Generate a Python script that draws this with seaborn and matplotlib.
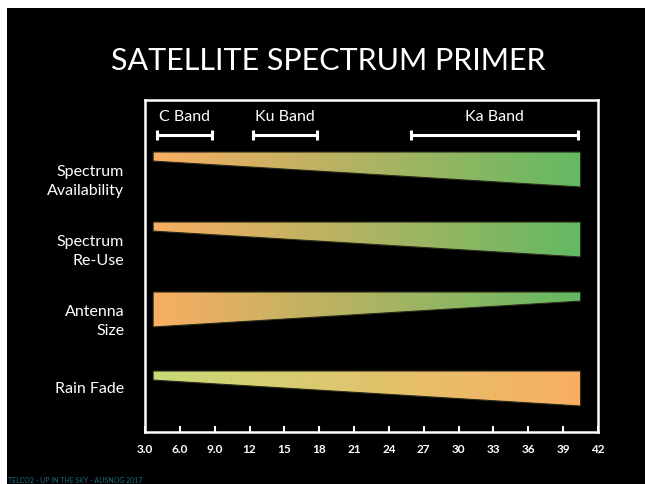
import numpy as np
import pandas as pd
import matplotlib
matplotlib.use("Agg")
import matplotlib.pyplot as plt
from matplotlib.colors import LinearSegmentedColormap
from matplotlib.patches import Polygon, Rectangle
import seaborn as sns

# ---- data -------------------------------------------------------------
metrics = ["Spectrum\nAvailability", "Spectrum\nRe-Use", "Antenna\nSize", "Rain Fade"]
freq_start = 3.7          # GHz, left end of every wedge
freq_end = 40.5           # GHz, right end of every wedge
level_low = [0.26, 0.26, 1.0, 0.26]    # relative magnitude at low frequency
level_high = [1.0, 1.0, 0.26, 1.0]     # relative magnitude at high frequency
color_low = ["#F9AE62", "#F9AE62", "#F9AE62", "#C9DA78"]
color_high = ["#63B963", "#63B963", "#63B963", "#F9AE62"]

bands = ["C Band", "Ku Band", "Ka Band"]
band_lo = [4.0, 12.3, 25.9]
band_hi = [8.8, 17.8, 40.3]

x_ticks = [3, 6, 9, 12, 15, 18, 21, 24, 27, 30, 33, 36, 39, 42]
x_tick_labels = ["3.0", "6.0", "9.0", "12", "15", "18", "21", "24",
                 "27", "30", "33", "36", "39", "42"]

# ---- layout (vertical units of the axes, top = 0) ---------------------
row_top = [52, 122, 192, 271]
row_label_y = [77, 147, 217, 287]
max_thickness = 35
bracket_y = 35
band_label_y = 16

sns.set_theme(style="dark")
plt.rcParams["font.family"] = ["Lato", "DejaVu Sans"]

fig = plt.figure(figsize=(6.45, 4.85), dpi=100, facecolor="white")
fig.patches.append(Rectangle((7 / 645, 0), 1, 1 - 9 / 485, transform=fig.transFigure,
                             facecolor="black", edgecolor="none", zorder=-10))

ax = fig.add_axes([145 / 645, 1 - 433 / 485, 453 / 645, 332 / 485])
ax.set_zorder(5)
ax.set_facecolor("black")
ax.set_xlim(3, 42)
ax.set_ylim(332, 0)

# gradient wedges
for i in range(len(metrics)):
    top = row_top[i]
    b0 = top + max_thickness * level_low[i]
    b1 = top + max_thickness * level_high[i]
    verts = [(freq_start, top), (freq_end, top), (freq_end, b1), (freq_start, b0)]
    poly = Polygon(verts, closed=True, facecolor="none", edgecolor="#2a2a1a",
                   linewidth=0.8, zorder=3)
    ax.add_patch(poly)
    cmap = LinearSegmentedColormap.from_list(f"row{i}", [color_low[i], color_high[i]])
    grad = np.linspace(0, 1, 256).reshape(1, -1)
    im = ax.imshow(grad, cmap=cmap, aspect="auto", interpolation="bilinear",
                   extent=[freq_start, freq_end, max(b0, b1), top], zorder=2)
    im.set_clip_path(poly)

# band brackets
seg = pd.DataFrame({
    "freq": [v for lo, hi in zip(band_lo, band_hi) for v in (lo, hi)],
    "y": [bracket_y] * (2 * len(bands)),
    "band": [b for b in bands for _ in range(2)],
})
sns.lineplot(data=seg, x="freq", y="y", units="band", estimator=None,
             color="white", linewidth=2.2, ax=ax, legend=False, sort=False)
for name, lo, hi in zip(bands, band_lo, band_hi):
    ax.vlines([lo, hi], bracket_y - 5, bracket_y + 5, color="white", linewidth=2.2)
    ax.text((lo + hi) / 2, band_label_y, name, color="white", fontsize=11.5,
            ha="center", va="center")

# axes styling
for s in ax.spines.values():
    s.set_visible(True)
    s.set_color("white")
    s.set_linewidth(1.8)
ax.set_xticks(x_ticks)
ax.set_xticklabels(x_tick_labels)
ax.tick_params(axis="x", direction="in", length=4, width=1.5, color="white",
               labelcolor="white", labelsize=8.5, pad=8, bottom=True)
for t in ax.get_xticklabels():
    t.set_fontweight("bold")
ax.set_yticks(row_label_y)
ax.set_yticklabels(metrics)
ax.tick_params(axis="y", length=0, pad=15, labelcolor="white", labelsize=11.5)
for t in ax.get_yticklabels():
    t.set_multialignment("right")
    t.set_linespacing(1.4)
ax.set_xlabel("")
ax.set_ylabel("")
ax.grid(False)

fig.text(328 / 645, 1 - 61 / 485, "SATELLITE SPECTRUM PRIMER", color="white",
         fontsize=22, fontweight="normal", ha="center", va="center")
fig.text(8 / 645, 1 - 481 / 485, "TELCO2 - UP IN THE SKY - AUSNOG 2017",
         color="#1C6E80", fontsize=5, ha="left", va="center")

fig.savefig("out.png", dpi=100, facecolor="white")
